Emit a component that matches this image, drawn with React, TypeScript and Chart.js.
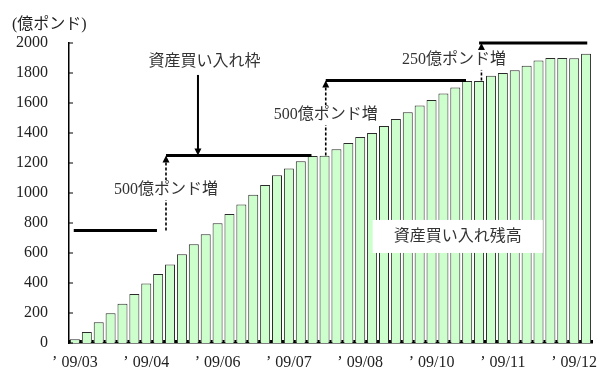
import { useEffect, useRef } from 'react';
import { Chart, registerables } from 'chart.js';

Chart.register(...registerables);

// Weekly outstanding asset purchases (億ポンド), Mar–Dec 2009
const purchases = [
  25, 73, 138, 198, 262, 327, 396, 460, 524, 591, 658, 725, 798, 860, 924,
  989, 1053, 1118, 1164, 1211, 1247, 1249, 1291, 1333, 1373, 1400, 1447, 1493,
  1538, 1584, 1620, 1664, 1704, 1747, 1747, 1782, 1800, 1818, 1849, 1884, 1900,
  1900, 1898, 1929,
];

// Month labels shown under every sixth week
const tickLabels = ['’ 09/03', '’ 09/04', '’ 09/06', '’ 09/07', '’ 09/08', '’ 09/10', '’ 09/11', '’ 09/12'];
const tickEvery = 6;

const categories = purchases.map((_, i) => (i % tickEvery === 0 ? tickLabels[i / tickEvery] ?? '' : ''));

// Purchase ceiling (資産買い入れ枠) steps, in category-index units along the x axis
const limitLevels = [750, 1250, 1750, 2000];
const limitFrom = [-0.1, 7.66, 21.1, 34.0];
const limitTo = [6.9, 19.9, 32.9, 43.1];

// Ceiling increases: where the dashed arrow rises, and its label
const raiseAt = [7.66, 21.1, 34.2];
const raiseLabels = ['500億ポンド増', '500億ポンド増', '250億ポンド増'];
const raiseLabelX = [7.66, 21.1, 31.9];
const raiseLabelY = [1020, 1520, 1887];

const unitLabel = '(億ポンド)';
const limitTitle = '資産買い入れ枠';
const balanceTitle = '資産買い入れ残高';

const FONT = '"Liberation Serif", "Noto Sans CJK JP", serif';

const annotations = {
  id: 'purchaseAnnotations',
  afterDatasetsDraw(chart: any) {
    const { ctx, chartArea } = chart;
    const x = chart.scales.x;
    const y = chart.scales.y;
    const px = (i: number) => x.getPixelForValue(i);
    const py = (v: number) => y.getPixelForValue(v);

    const line = (x1: number, y1: number, x2: number, y2: number) => {
      ctx.beginPath();
      ctx.moveTo(x1, y1);
      ctx.lineTo(x2, y2);
      ctx.stroke();
    };
    const arrowHead = (cx: number, tipY: number, dir: number) => {
      ctx.beginPath();
      ctx.moveTo(cx, tipY);
      ctx.lineTo(cx - 3.5, tipY + dir * 7);
      ctx.lineTo(cx + 3.5, tipY + dir * 7);
      ctx.closePath();
      ctx.fill();
    };
    const boxedText = (text: string, cx: number, cy: number) => {
      ctx.font = `16px ${FONT}`;
      const w = ctx.measureText(text).width;
      ctx.fillStyle = '#fff';
      ctx.fillRect(cx - w / 2 - 2, cy - 10, w + 4, 20);
      ctx.fillStyle = '#333';
      ctx.textAlign = 'center';
      ctx.textBaseline = 'middle';
      ctx.fillText(text, cx, cy);
    };

    ctx.save();
    ctx.strokeStyle = '#000';
    ctx.fillStyle = '#000';

    // inward tick marks on both axes
    ctx.lineWidth = 1;
    y.ticks.forEach((t: any) => line(chartArea.left, py(t.value), chartArea.left + 4, py(t.value)));
    ctx.lineWidth = 2;
    for (let i = 0; i <= purchases.length; i++) {
      const bx = px(i - 0.5);
      line(bx, chartArea.bottom, bx, chartArea.bottom - 3);
    }

    // ceiling levels
    ctx.lineWidth = 3;
    ctx.lineCap = 'butt';
    limitLevels.forEach((v, k) => line(px(limitFrom[k]), py(v), px(limitTo[k]), py(v)));

    // dashed arrows for each increase
    ctx.lineWidth = 1.6;
    raiseAt.forEach((i, k) => {
      const top = py(limitLevels[k + 1]);
      ctx.setLineDash([3, 2]);
      line(px(i), py(limitLevels[k]), px(i), top + 6);
      ctx.setLineDash([]);
      arrowHead(px(i), top, 1);
    });

    // ceiling title with downward arrow to the 1250 level
    ctx.lineWidth = 2;
    line(px(10.35), py(1787), px(10.35), py(1250) - 6);
    arrowHead(px(10.35), py(1250), -1);
    ctx.font = `16px ${FONT}`;
    ctx.fillStyle = '#333';
    ctx.textAlign = 'center';
    ctx.textBaseline = 'middle';
    ctx.fillText(limitTitle, px(10.9), py(1873));

    raiseLabels.forEach((t, k) => boxedText(t, px(raiseLabelX[k]), py(raiseLabelY[k])));

    // outstanding-balance caption box
    const bx = px(32.2);
    const by = py(707);
    ctx.fillStyle = '#fff';
    ctx.fillRect(bx - 85, by - 17, 170, 33);
    ctx.fillStyle = '#333';
    ctx.font = `16px ${FONT}`;
    ctx.fillText(balanceTitle, bx, by);

    // unit label
    ctx.textAlign = 'left';
    ctx.fillStyle = '#222';
    ctx.font = `16px ${FONT}`;
    ctx.fillText(unitLabel, 12, 25);

    ctx.restore();
  },
};

export default function App() {
  const ref = useRef<HTMLCanvasElement>(null);

  useEffect(() => {
    if (!ref.current) return;
    const chart = new Chart(ref.current, {
      type: 'bar',
      data: {
        labels: categories,
        datasets: [
          {
            data: purchases,
            backgroundColor: '#ccffcc',
            borderColor: '#2b2b2b',
            borderWidth: 1,
            barPercentage: 0.84,
            categoryPercentage: 1,
          },
        ],
      },
      options: {
        responsive: false,
        animation: false,
        layout: { padding: { top: 43, right: 6, left: 0, bottom: 0 } },
        plugins: { legend: { display: false }, tooltip: { enabled: false } },
        scales: {
          x: {
            grid: { display: false, drawTicks: false },
            border: { display: true, color: '#000', width: 1.5 },
            ticks: {
              autoSkip: false,
              maxRotation: 0,
              minRotation: 0,
              padding: 10,
              color: '#222',
              font: { family: FONT, size: 16 },
            },
            afterFit: (s: any) => {
              s.height = 24;
            },
          },
          y: {
            min: 0,
            max: 2000,
            grid: { display: false, drawTicks: false },
            border: { display: true, color: '#000', width: 1.5 },
            ticks: {
              stepSize: 200,
              padding: 21,
              color: '#222',
              font: { family: FONT, size: 16 },
              callback: (v: any) => String(v),
            },
            afterFit: (s: any) => {
              s.width = 69;
              s.paddingTop = 0;
              s.paddingBottom = 0;
            },
          },
        },
      },
      plugins: [annotations],
    });
    return () => chart.destroy();
  }, []);

  return (
    <div style={{ position: 'fixed', left: 0, top: 0, width: 598, height: 367, background: '#fff' }}>
      <canvas ref={ref} width={598} height={367} />
    </div>
  );
}
